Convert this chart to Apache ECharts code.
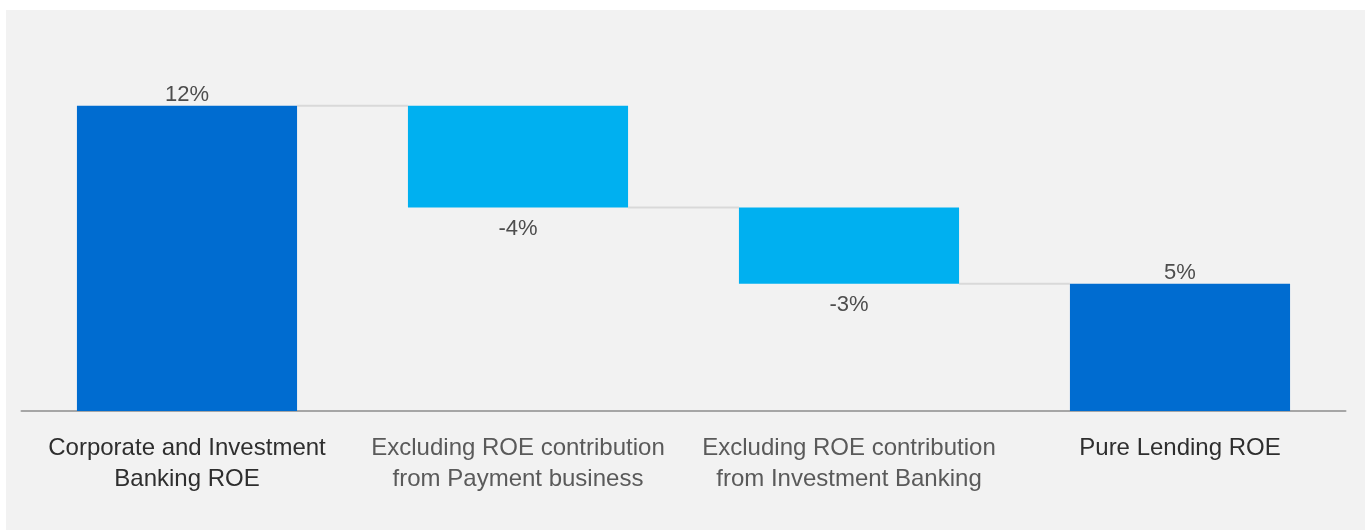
<!DOCTYPE html>
<html>
<head>
<meta charset="utf-8">
<title>ROE bridge</title>
<script src="https://cdn.jsdelivr.net/npm/echarts@6/dist/echarts.min.js"></script>
<style>
  html, body { margin: 0; padding: 0; background: #ffffff; }
  #chart { width: 1365px; height: 530px; }
</style>
</head>
<body>
<div id="chart"></div>
<script>
// Bridge from CIB ROE down to pure lending ROE (percentage points)
const categories = [
  'Corporate and Investment\nBanking ROE',
  'Excluding ROE contribution\nfrom Payment business',
  'Excluding ROE contribution\nfrom Investment Banking',
  'Pure Lending ROE'
];
const steps = [12, -4, -3, 5];          // first and last are totals, middle are deltas
const isTotal = [true, false, false, true];

const totalColor = '#006cd0';
const deltaColor = '#00b0f0';

// Invisible base and visible height for each bar of the waterfall
const baseValues = [];
const barValues = [];
const levels = [];   // running level after each bar, used for connectors
let running = 0;
steps.forEach((v, i) => {
  if (isTotal[i]) {
    baseValues.push(0);
    barValues.push(v);
    running = v;
  } else {
    const next = running + v;
    baseValues.push(Math.min(running, next));
    barValues.push(Math.abs(v));
    running = next;
  }
  levels.push(running);
});

const chart = echarts.init(document.getElementById('chart'));

const barFrac = 0.665;
const font = 'Liberation Sans, Arial, sans-serif';

chart.setOption({
  animation: false,
  backgroundColor: '#ffffff',
  textStyle: { fontFamily: font },
  graphic: [{
    type: 'rect',
    left: 6, top: 10,
    shape: { width: 1359, height: 520 },
    style: { fill: '#f2f2f2' },
    z: -10
  }],
  grid: { left: 21.5, right: 19.5, top: 55, bottom: 119 },
  xAxis: {
    type: 'category',
    data: categories,
    axisTick: { show: false },
    axisLine: { lineStyle: { color: '#a6a6a6', width: 2 } },
    axisLabel: {
      interval: 0,
      margin: 22,
      fontSize: 24,
      lineHeight: 31,
      formatter: (val, idx) => isTotal[idx] ? '{t|' + val.split('\n').join('}\n{t|') + '}' : '{d|' + val.split('\n').join('}\n{d|') + '}',
      rich: {
        t: { fontSize: 24, lineHeight: 31, color: '#2e2e2e', fontFamily: font },
        d: { fontSize: 24, lineHeight: 31, color: '#5a5a5a', fontFamily: font }
      }
    }
  },
  yAxis: {
    type: 'value',
    min: 0,
    max: 14,
    show: false,
    splitLine: { show: false }
  },
  series: [
    {
      type: 'bar',
      stack: 'wf',
      data: baseValues,
      barWidth: (barFrac * 100) + '%',
      itemStyle: { color: 'transparent' },
      silent: true
    },
    {
      type: 'bar',
      stack: 'wf',
      barWidth: (barFrac * 100) + '%',
      data: barValues.map((v, i) => ({
        value: v,
        itemStyle: { color: isTotal[i] ? totalColor : deltaColor },
        label: {
          show: true,
          position: isTotal[i] ? 'top' : 'bottom',
          distance: isTotal[i] ? 0 : 10,
          formatter: steps[i] + '%',
          fontSize: 22,
          color: '#4d4d4d'
        }
      }))
    },
    {
      // connectors between neighbouring bars at the running level
      type: 'custom',
      silent: true,
      z: 1,
      data: levels.slice(0, -1).map((lv, i) => [i, lv]),
      renderItem: (params, api) => {
        const p = api.coord([api.value(0), api.value(1)]);
        const band = api.size([1, 0])[0];
        const half = band * barFrac / 2;
        return {
          type: 'line',
          shape: { x1: p[0] + half, y1: p[1], x2: p[0] + band - half, y2: p[1] },
          style: { stroke: '#d9d9d9', lineWidth: 2 }
        };
      }
    }
  ]
});
</script>
</body>
</html>
